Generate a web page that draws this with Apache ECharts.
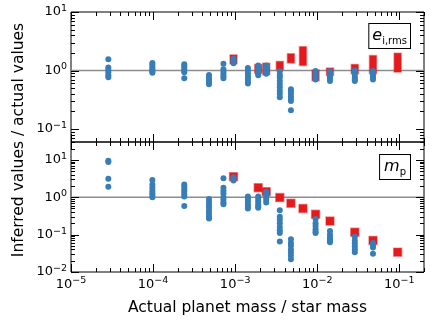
<!DOCTYPE html>
<html><head><meta charset="utf-8">
<script src="https://cdn.jsdelivr.net/npm/echarts@6/dist/echarts.min.js"></script>
<style>html,body{margin:0;padding:0;background:#fff}#c{width:436px;height:327px}</style>
</head><body><div id="c"></div>
<script>
// Actual planet mass / star mass for each simulation group
const masses = [2.85e-5, 9.8e-5, 2.4e-4, 4.8e-4, 7.2e-4, 9.55e-4, 1.43e-3, 1.91e-3, 2.39e-3, 3.5e-3, 4.78e-3, 6.7e-3, 9.55e-3, 1.43e-2, 2.87e-2, 4.78e-2, 9.55e-2];

// Top panel: inferred / actual e_i,rms (blue dots)
const eRatio = [
  [1.55, 1.13, 1.03, 0.93, 0.83, 0.77],
  [1.35, 1.25, 1.15, 1.07, 1.0, 0.95, 0.92],
  [1.28, 1.18, 1.08, 1.0, 0.93, 0.74],
  [0.84, 0.78, 0.72, 0.66, 0.61, 0.58],
  [1.3, 1.05, 0.95, 0.87, 0.8, 0.74],
  [1.6, 1.5, 1.4, 1.33],
  [1.1, 1.0, 0.9, 0.8, 0.72, 0.65, 0.6],
  [1.22, 1.12, 1.03, 0.95, 0.88, 0.83],
  [1.22, 1.12, 1.03, 0.95, 0.88],
  [0.97, 0.85, 0.77, 0.67, 0.59, 0.52, 0.45, 0.4, 0.35],
  [0.48, 0.44, 0.4, 0.36, 0.33, 0.3, 0.21],
  [],
  [0.98, 0.9, 0.82, 0.75, 0.7],
  [0.97, 0.88, 0.8, 0.72, 0.66],
  [1.0, 0.92, 0.84, 0.76, 0.7, 0.66],
  [0.98, 0.9, 0.82, 0.75, 0.7],
  []
];
// Top panel: red ranges (low / high)
const eRangeLo = [null, null, null, null, null, 1.30, null, 0.90, 0.85, 1.03, 1.35, 1.22, 0.67, 0.82, 0.88, 0.88, 0.94];
const eRangeHi = [null, null, null, null, null, 1.85, null, 1.27, 1.33, 1.43, 1.93, 2.55, 1.02, 1.10, 1.27, 1.80, 1.98];

// Bottom panel: inferred / actual m_p (blue dots)
const mRatio = [
  [9.5, 8.8, 3.1, 1.92],
  [2.9, 2.2, 1.8, 1.5, 1.3, 1.15, 1.0],
  [2.2, 1.9, 1.6, 1.4, 1.2, 1.05, 0.58],
  [0.9, 0.75, 0.62, 0.52, 0.43, 0.36, 0.3, 0.27],
  [3.2, 1.8, 1.5, 1.25, 1.0, 0.85, 0.72, 0.65],
  [3.4, 3.1, 2.8],
  [1.05, 0.9, 0.77, 0.65, 0.56, 0.5],
  [1.05, 0.9, 0.77, 0.65, 0.56, 0.52],
  [1.4, 1.2, 1.0, 0.85, 0.72],
  [0.45, 0.3, 0.25, 0.2, 0.16, 0.13, 0.11, 0.065],
  [0.075, 0.06, 0.05, 0.04, 0.033, 0.027, 0.022],
  [],
  [0.26, 0.2, 0.17, 0.14, 0.12, 0.11],
  [0.125, 0.1, 0.085, 0.075, 0.068, 0.062],
  [0.088, 0.07, 0.058, 0.048, 0.04, 0.034],
  [0.06, 0.052, 0.045, 0.031],
  []
];
// Bottom panel: red squares
const mRed = [null, null, null, null, null, 3.55, null, 1.8, 1.41, 0.98, 0.69, 0.5, 0.35, 0.23, 0.116, 0.07, 0.034];

// Axis ranges and major ticks
const xRange = [1e-5, 0.2];
const yTopRange = [0.06, 10];
const yBotRange = [0.01, 30];
const xMajor = [1e-5, 1e-4, 1e-3, 1e-2, 1e-1];
const yTopMajor = [0.1, 1, 10];
const yBotMajor = [0.01, 0.1, 1, 10];
const minorMultipliers = [2, 3, 4, 5, 6, 7, 8, 9];

const FONT = 'DejaVu Sans';
const BLUE = '#377eb8';
const RED = '#e41a1c';

function minorTicks(range) {
  const out = [];
  const lo = Math.floor(Math.log10(range[0])), hi = Math.ceil(Math.log10(range[1]));
  for (let d = lo; d <= hi; d++) {
    minorMultipliers.forEach(m => {
      const v = m * Math.pow(10, d);
      if (v >= range[0] * 0.9999 && v <= range[1] * 1.0001) out.push(v);
    });
  }
  return out;
}

const blueTop = [], blueBot = [], redBars = [], redSquares = [];
masses.forEach((m, i) => {
  eRatio[i].forEach(v => blueTop.push([m, v]));
  mRatio[i].forEach(v => blueBot.push([m, v]));
  if (eRangeLo[i] != null) redBars.push([m, eRangeLo[i], eRangeHi[i]]);
  if (mRed[i] != null) redSquares.push([m, mRed[i]]);
});

function powLabel(v) {
  const e = Math.log10(v), r = Math.round(e);
  if (Math.abs(e - r) > 1e-6) return '';
  return '{b|10}{s|' + (r < 0 ? '\u2212' + (-r) : r) + '}';
}
const labelRich = {
  b: { fontSize: 13, lineHeight: 17, fontFamily: FONT, color: '#000' },
  s: { fontSize: 9.5, lineHeight: 10, verticalAlign: 'top', fontFamily: FONT, color: '#000' }
};

function xTickSeries(gi) {
  const data = xMajor.map(v => [v, 1, 1]).concat(minorTicks(xRange).map(v => [v, 1, 0]));
  return {
    type: 'custom', xAxisIndex: gi, yAxisIndex: gi, silent: true, z: 10, clip: false,
    encode: { x: 0, y: 1 },
    data: data,
    renderItem: (params, api) => {
      const cs = params.coordSys;
      const len = api.value(2) ? 8 : 4;
      const px = Math.round(api.coord([api.value(0), 1])[0]) + 0.5;
      const st = { stroke: '#000', lineWidth: 1 };
      return { type: 'group', children: [
        { type: 'line', shape: { x1: px, y1: cs.y + cs.height, x2: px, y2: cs.y + cs.height - len }, style: st },
        { type: 'line', shape: { x1: px, y1: cs.y, x2: px, y2: cs.y + len }, style: st }
      ]};
    }
  };
}
function yTickSeries(gi, range, major) {
  const data = major.map(v => [1e-3, v, 1]).concat(minorTicks(range).map(v => [1e-3, v, 0]));
  return {
    type: 'custom', xAxisIndex: gi, yAxisIndex: gi, silent: true, z: 10, clip: false,
    encode: { x: 0, y: 1 },
    data: data,
    renderItem: (params, api) => {
      const cs = params.coordSys;
      const len = api.value(2) ? 8 : 4;
      const py = Math.round(api.coord([1e-3, api.value(1)])[1]) + 0.5;
      const st = { stroke: '#000', lineWidth: 1 };
      return { type: 'group', children: [
        { type: 'line', shape: { x1: cs.x, y1: py, x2: cs.x + len, y2: py }, style: st },
        { type: 'line', shape: { x1: cs.x + cs.width, y1: py, x2: cs.x + cs.width - len, y2: py }, style: st }
      ]};
    }
  };
}

function xAxisDef(gi, showLabels) {
  return {
    type: 'log', gridIndex: gi, min: xRange[0], max: xRange[1], logBase: 10,
    axisLine: { show: false }, axisTick: { show: false }, splitLine: { show: false },
    axisLabel: { show: showLabels, formatter: powLabel, rich: labelRich, margin: 4, color: '#000' }
  };
}
function yAxisDef(gi, range) {
  return {
    type: 'log', gridIndex: gi, min: range[0], max: range[1], logBase: 10,
    axisLine: { show: false }, axisTick: { show: false }, splitLine: { show: false },
    axisLabel: { show: true, formatter: powLabel, rich: labelRich, margin: 4, color: '#000' }
  };
}

const chart = echarts.init(document.getElementById('c'), null, { renderer: 'canvas' });
chart.setOption({
  animation: false,
  backgroundColor: '#fff',
  grid: [
    { left: 71, right: 12, top: 12, height: 130, show: true, borderColor: '#000', borderWidth: 1, backgroundColor: 'transparent' },
    { left: 71, right: 12, top: 142, height: 130, show: true, borderColor: '#000', borderWidth: 1, backgroundColor: 'transparent' }
  ],
  xAxis: [xAxisDef(0, false), xAxisDef(1, true)],
  yAxis: [yAxisDef(0, yTopRange), yAxisDef(1, yBotRange)],
  series: [
    { type: 'line', xAxisIndex: 0, yAxisIndex: 0, data: [[xRange[0], 1], [xRange[1], 1]], symbol: 'none', silent: true, z: 1,
      lineStyle: { color: '#8c8c8c', width: 1.5 } },
    { type: 'line', xAxisIndex: 1, yAxisIndex: 1, data: [[xRange[0], 1], [xRange[1], 1]], symbol: 'none', silent: true, z: 1,
      lineStyle: { color: '#8c8c8c', width: 1.5 } },
    { type: 'custom', xAxisIndex: 0, yAxisIndex: 0, z: 3, encode: { x: 0, y: [1, 2] }, data: redBars,
      renderItem: (params, api) => {
        const p1 = api.coord([api.value(0), api.value(1)]);
        const p2 = api.coord([api.value(0), api.value(2)]);
        const w = 7;
        return { type: 'rect', shape: { x: p1[0] - w / 2, y: p2[1], width: w, height: p1[1] - p2[1] },
          style: { fill: RED, stroke: 'rgba(228,26,28,0.45)', lineWidth: 1.5 } };
      } },
    { type: 'scatter', xAxisIndex: 0, yAxisIndex: 0, z: 4, data: blueTop, symbolSize: 6,
      itemStyle: { color: BLUE, opacity: 1 } },
    { type: 'scatter', xAxisIndex: 1, yAxisIndex: 1, z: 3, data: redSquares, symbol: 'rect', symbolSize: 8,
      itemStyle: { color: RED, borderColor: 'rgba(228,26,28,0.45)', borderWidth: 1.5, opacity: 1 } },
    { type: 'scatter', xAxisIndex: 1, yAxisIndex: 1, z: 4, data: blueBot, symbolSize: 6,
      itemStyle: { color: BLUE, opacity: 1 } },
    xTickSeries(0), xTickSeries(1),
    yTickSeries(0, yTopRange, yTopMajor), yTickSeries(1, yBotRange, yBotMajor)
  ],
  graphic: [
    { type: 'text', x: 247.5, y: 308, silent: true,
      style: { text: 'Actual planet mass / star mass', font: '15.5px "DejaVu Sans"', fill: '#000',
        textAlign: 'center', textVerticalAlign: 'middle', align: 'center', verticalAlign: 'middle' } },
    { type: 'text', x: 18.5, y: 140, rotation: Math.PI / 2, silent: true,
      style: { text: 'Inferred values / actual values', font: '15.5px "DejaVu Sans"', fill: '#000',
        textAlign: 'center', textVerticalAlign: 'middle', align: 'center', verticalAlign: 'middle' } },
    { type: 'text', right: 25, top: 23, silent: true, z: 20,
      style: { text: '{e|e}{s|i,rms}', backgroundColor: '#fff', borderColor: '#000', borderWidth: 1, padding: [2, 3, 2, 3],
        rich: {
          e: { fontSize: 16, fontStyle: 'italic', fontFamily: FONT, lineHeight: 20, fill: '#000', color: '#000' },
          s: { fontSize: 10, fontFamily: FONT, lineHeight: 10, verticalAlign: 'bottom', fill: '#000', color: '#000' }
        } } },
    { type: 'text', right: 25, top: 154, silent: true, z: 20,
      style: { text: '{e|m}{s|p}', backgroundColor: '#fff', borderColor: '#000', borderWidth: 1, padding: [2, 4, 2, 4],
        rich: {
          e: { fontSize: 16, fontStyle: 'italic', fontFamily: FONT, lineHeight: 20, fill: '#000', color: '#000' },
          s: { fontSize: 10, fontFamily: FONT, lineHeight: 10, verticalAlign: 'bottom', fill: '#000', color: '#000' }
        } } }
  ]
});
</script></body></html>
